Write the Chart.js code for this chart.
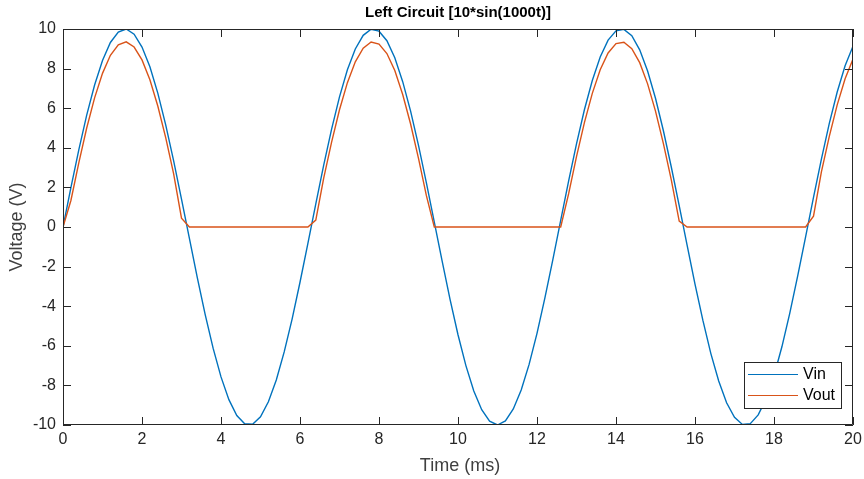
<!DOCTYPE html>
<html>
<head>
<meta charset="utf-8">
<script src="https://cdn.jsdelivr.net/npm/chart.js@4.4.1/dist/chart.umd.min.js"></script>
<style>
  html, body { margin: 0; padding: 0; background: #fff; }
  #wrap { width: 864px; height: 479px; }
</style>
</head>
<body>
<div id="wrap"><canvas id="plot" width="864" height="479"></canvas></div>
<script>
// time samples in ms, every 0.2 ms from 0 to 20
const timeMs = [
  0, 0.2, 0.4, 0.6, 0.8, 1, 1.2, 1.4, 1.6, 1.8, 2, 2.2, 2.4, 2.6, 2.8, 3,
  3.2, 3.4, 3.6, 3.8, 4, 4.2, 4.4, 4.6, 4.8, 5, 5.2, 5.4, 5.6, 5.8, 6, 6.2,
  6.4, 6.6, 6.8, 7, 7.2, 7.4, 7.6, 7.8, 8, 8.2, 8.4, 8.6, 8.8, 9, 9.2, 9.4,
  9.6, 9.8, 10, 10.2, 10.4, 10.6, 10.8, 11, 11.2, 11.4, 11.6, 11.8, 12, 12.2, 12.4,
  12.6, 12.8, 13, 13.2, 13.4, 13.6, 13.8, 14, 14.2, 14.4, 14.6, 14.8, 15, 15.2, 15.4, 15.6,
  15.8, 16, 16.2, 16.4, 16.6, 16.8, 17, 17.2, 17.4, 17.6, 17.8, 18, 18.2, 18.4, 18.6, 18.8,
  19, 19.2, 19.4, 19.6, 19.8, 20
];

const vin = [
  0, 1.99, 3.89, 5.65, 7.17, 8.41, 9.32, 9.85, 10.00, 9.74, 9.09, 8.09, 6.76, 5.16, 3.35, 1.41,
  -0.58, -2.56, -4.43, -6.12, -7.57, -8.72, -9.52, -9.94, -9.96, -9.59, -8.83, -7.73, -6.31, -4.65, -2.79, -0.83,
  1.17, 3.12, 4.94, 6.57, 7.94, 8.99, 9.68, 9.99, 9.89, 9.41, 8.55, 7.34, 5.85, 4.12, 2.23, 0.25,
  -1.74, -3.67, -5.44, -7.00, -8.28, -9.23, -9.81, -10.00, -9.79, -9.19, -8.23, -6.94, -5.37, -3.58, -1.66,
  0.34, 2.32, 4.20, 5.92, 7.40, 8.59, 9.44, 9.91, 9.98, 9.66, 8.95, 7.88, 6.50, 4.86, 3.03, 1.08,
  -0.92, -2.88, -4.72, -6.38, -7.78, -8.88, -9.61, -9.97, -9.93, -9.49, -8.68, -7.51, -6.05, -4.35, -2.47, -0.50,
  1.50, 3.43, 5.23, 6.82, 8.14, 9.13
];

const vout = [
  0, 1.34, 3.24, 5.00, 6.52, 7.76, 8.67, 9.20, 9.35, 9.09, 8.44, 7.44, 6.11, 4.51, 2.70, 0.45,
  0, 0, 0, 0, 0, 0, 0, 0, 0, 0, 0, 0, 0, 0, 0, 0,
  0.35, 2.47, 4.29, 5.92, 7.29, 8.34, 9.03, 9.34, 9.24, 8.76, 7.90, 6.69, 5.20, 3.47, 1.58, 0,
  0, 0, 0, 0, 0, 0, 0, 0, 0, 0, 0, 0, 0, 0, 0,
  0, 1.67, 3.55, 5.27, 6.75, 7.94, 8.79, 9.26, 9.33, 9.01, 8.30, 7.23, 5.85, 4.21, 2.38, 0.30,
  0, 0, 0, 0, 0, 0, 0, 0, 0, 0, 0, 0, 0, 0, 0, 0,
  0.55, 2.78, 4.58, 6.17, 7.49, 8.48
];

const xTicks = [0, 2, 4, 6, 8, 10, 12, 14, 16, 18, 20];
const yTicks = [-10, -8, -6, -4, -2, 0, 2, 4, 6, 8, 10];

const seriesNames = ['Vin', 'Vout'];
const seriesColors = ['#0072BD', '#D95319'];

const axisColor = '#262626';
const fontFamily = '"Liberation Sans", Arial, Helvetica, sans-serif';

function toPoints(ys) {
  return timeMs.map((t, i) => ({ x: t, y: ys[i] }));
}

// MATLAB style box, inward ticks, title, axis labels and legend
const matlabAxes = {
  id: 'matlabAxes',
  afterDraw(chart) {
    const ctx = chart.ctx;
    const a = chart.chartArea;
    const xs = chart.scales.x;
    const ys = chart.scales.y;
    ctx.save();
    ctx.strokeStyle = axisColor;
    ctx.lineWidth = 1;
    ctx.beginPath();
    ctx.rect(a.left + 0.5, a.top + 0.5, a.right - a.left - 1, a.bottom - a.top - 1);
    ctx.stroke();

    const tl = 8;
    ctx.beginPath();
    xTicks.forEach(v => {
      const px = Math.round(xs.getPixelForValue(v)) + 0.5;
      ctx.moveTo(px, a.bottom); ctx.lineTo(px, a.bottom - tl);
      ctx.moveTo(px, a.top); ctx.lineTo(px, a.top + tl);
    });
    yTicks.forEach(v => {
      const py = Math.round(ys.getPixelForValue(v)) + 0.5;
      ctx.moveTo(a.left, py); ctx.lineTo(a.left + tl, py);
      ctx.moveTo(a.right, py); ctx.lineTo(a.right - tl, py);
    });
    ctx.stroke();

    // title
    ctx.fillStyle = '#000';
    ctx.font = 'bold 15px ' + fontFamily;
    ctx.textAlign = 'center';
    ctx.textBaseline = 'middle';
    ctx.fillText('Left Circuit [10*sin(1000t)]', 458, 13);

    // axis labels
    ctx.fillStyle = '#404040';
    ctx.font = '18px ' + fontFamily;
    ctx.fillText('Time (ms)', 460, 466);
    ctx.save();
    ctx.translate(17, 227);
    ctx.rotate(-Math.PI / 2);
    ctx.fillText('Voltage (V)', 0, 0);
    ctx.restore();

    // legend box in lower right
    const bx = 744, by = 362, bw = 97, bh = 46;
    ctx.fillStyle = '#fff';
    ctx.fillRect(bx, by, bw, bh);
    ctx.strokeStyle = '#262626';
    ctx.strokeRect(bx + 0.5, by + 0.5, bw, bh);
    ctx.font = '16px ' + fontFamily;
    ctx.textAlign = 'left';
    chart.data.datasets.forEach((ds, i) => {
      const ly = by + 12 + i * 21;
      ctx.strokeStyle = ds.borderColor;
      ctx.lineWidth = 1;
      ctx.beginPath();
      ctx.moveTo(bx + 4, ly + 0.5);
      ctx.lineTo(bx + 54, ly + 0.5);
      ctx.stroke();
      ctx.fillStyle = '#000';
      ctx.fillText(ds.label, bx + 59, ly + 1);
    });
    ctx.restore();
  }
};

new Chart(document.getElementById('plot'), {
  type: 'line',
  data: {
    datasets: [
      { label: seriesNames[0], data: toPoints(vin), borderColor: seriesColors[0], borderWidth: 1.4, pointRadius: 0, order: 2 },
      { label: seriesNames[1], data: toPoints(vout), borderColor: seriesColors[1], borderWidth: 1.4, pointRadius: 0, order: 1 }
    ]
  },
  options: {
    responsive: false,
    animation: false,
    layout: { padding: { top: 29, right: 11, left: 0, bottom: 0 } },
    plugins: {
      legend: { display: false },
      tooltip: { enabled: false }
    },
    elements: { line: { tension: 0 } },
    scales: {
      x: {
        type: 'linear',
        min: 0, max: 20,
        grid: { display: false, drawTicks: false },
        border: { display: false },
        afterFit(scale) {
          scale.height = 54;
          scale.paddingLeft = 0;
          scale.paddingRight = 0;
        },
        afterBuildTicks(scale) { scale.ticks = xTicks.map(v => ({ value: v })); },
        ticks: { color: axisColor, padding: 5, maxRotation: 0, font: { size: 16, family: fontFamily } }
      },
      y: {
        min: -10, max: 10,
        grid: { display: false, drawTicks: false },
        border: { display: false },
        afterFit(scale) {
          scale.width = 63;
          scale.paddingTop = 0;
          scale.paddingBottom = 0;
        },
        afterBuildTicks(scale) { scale.ticks = yTicks.map(v => ({ value: v })); },
        ticks: { color: axisColor, padding: 7, font: { size: 16, family: fontFamily } }
      }
    }
  },
  plugins: [matlabAxes]
});
</script>
</body>
</html>
